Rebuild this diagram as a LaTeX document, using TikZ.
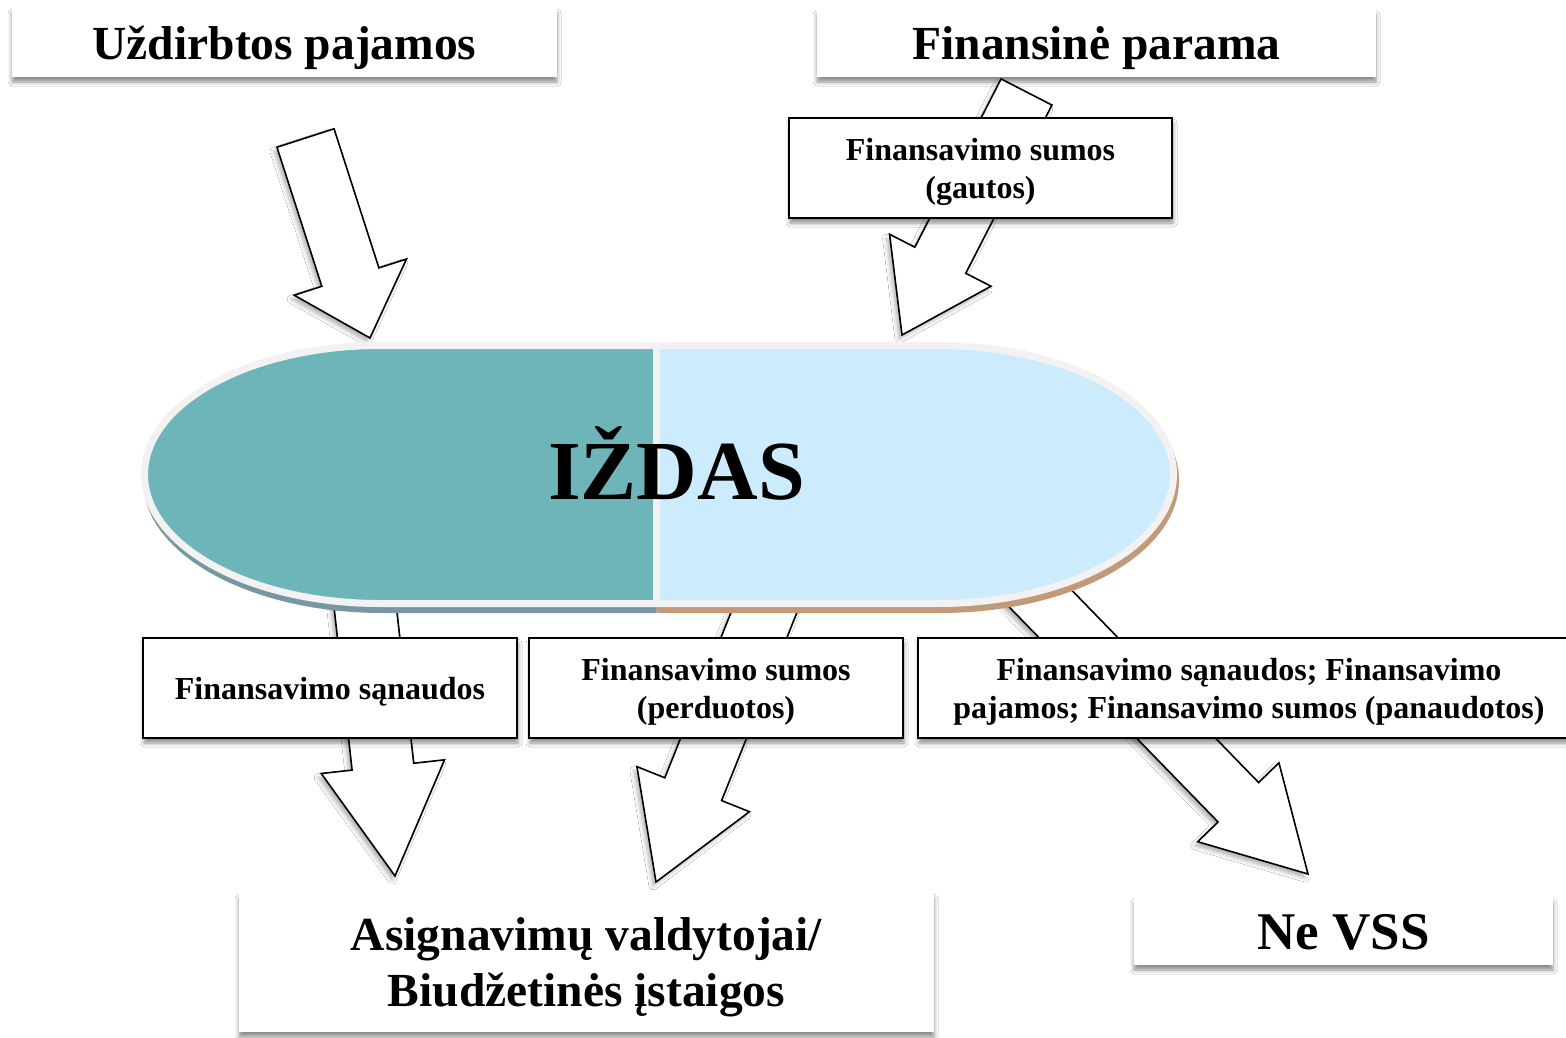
\documentclass[tikz,border=0pt]{standalone}
\usepackage{fontspec}
\setmainfont{Liberation Serif}
\usetikzlibrary{calc, shadows, shadows.blur}

\definecolor{izdteal}{HTML}{6DB5B8}
\definecolor{izdblue}{HTML}{CCEBFC}
\definecolor{izdrim}{HTML}{F2F2F2}
\definecolor{rimleft}{HTML}{7897A3}
\definecolor{rimright}{HTML}{C39A77}

\tikzstyle{title} = [fill=white, rectangle, inner sep=0pt, align=center, text depth=0pt,
font=\fontsize{47.5}{56}\selectfont\bfseries,
blur shadow={shadow xshift=0pt, shadow yshift=-5pt, shadow blur radius=4pt, shadow opacity=45}]
\tikzstyle{account} = [draw, line width=1.6pt, fill=white, rectangle, inner sep=0pt, align=center, text depth=0pt,
font=\fontsize{32}{38}\selectfont\bfseries,
blur shadow={shadow xshift=1pt, shadow yshift=-5pt, shadow blur radius=4pt, shadow opacity=45}]
\tikzstyle{flow} = [draw, line width=1.6pt, fill=white,
blur shadow={shadow xshift=-3pt, shadow yshift=-4pt, shadow blur radius=4pt, shadow opacity=30}]

% tail, tip, shaft half width, head half width, head length
\newcommand{\flowarrow}[5]{%
  \coordinate (fa-h) at ($(#2)!#5!(#1)$);
  \draw[flow] ($(#1)!#3!90:(#2)$) -- ($(fa-h)!#3!-90:(#1)$) -- ($(fa-h)!#4!-90:(#1)$) -- (#2)
    -- ($(fa-h)!#4!90:(#1)$) -- ($(fa-h)!#3!90:(#1)$) -- ($(#1)!#3!-90:(#2)$) -- cycle;}

\def\pillpath{(380,345.5) -- (938,345.5) arc[start angle=-90, end angle=90, x radius=235.5, y radius=129]
  -- (380,603.5) arc[start angle=90, end angle=270, x radius=235.5, y radius=129] -- cycle}

\begin{document}
\begin{tikzpicture}[x=1pt, y=-1pt]
  \useasboundingbox (0,0) rectangle (1566,1038);
  \fill[white] (0,0) rectangle (1566,1038);

  % sources and receivers
  \node [title, minimum width=545, minimum height=69] (uzdirbtos) at (284.5,42.5) {U\v{z}dirbtos pajamos};
  \node [title, minimum width=559, minimum height=67] (parama) at (1096.5,43.5) {Finansin\.{e} parama};
  \node [title, minimum width=695, minimum height=139] (valdytojai) at (586.5,962.5) {Asignavim\k{u} valdytojai/\\Biud\v{z}etin\.{e}s \k{i}staigos};
  \node [title, minimum width=419, minimum height=67, font=\fontsize{53}{60}\selectfont\bfseries] (nevss) at (1343.5,931.5) {Ne VSS};

  \coordinate (uzdirbtos-out) at (305.5,138);
  \coordinate (parama-out) at (1026.5,92);
  \coordinate (izdas-in1) at (370,338);
  \coordinate (izdas-in2) at (902,335);
  \coordinate (izdas-out1) at (360,560);
  \coordinate (izdas-out2) at (785,560);
  \coordinate (izdas-out3) at (1003,560);
  \coordinate (valdytojai-in1) at (395,876);
  \coordinate (valdytojai-in2) at (656,882);
  \coordinate (nevss-in) at (1308,874);

  \flowarrow{uzdirbtos-out}{izdas-in1}{30pt}{59pt}{64pt}
  \flowarrow{parama-out}{izdas-in2}{28.6pt}{57pt}{84pt}
  \flowarrow{izdas-out1}{valdytojai-in1}{31pt}{62pt}{110pt}
  \flowarrow{izdas-out2}{valdytojai-in2}{30.6pt}{60.6pt}{100pt}
  \flowarrow{izdas-out3}{nevss-in}{28.3pt}{56.6pt}{100pt}

  % treasury
  \begin{scope}
    \clip (0,0) rectangle (656.5,1038);
    \filldraw[rimleft, line width=7pt, shift={(2,6)}] \pillpath;
    \fill[izdteal] \pillpath;
  \end{scope}
  \begin{scope}
    \clip (656.5,0) rectangle (1566,1038);
    \filldraw[rimright, line width=7pt, shift={(2,6)}] \pillpath;
    \fill[izdblue] \pillpath;
  \end{scope}
  \draw[izdrim, line width=7pt] \pillpath;
  \draw[izdrim, line width=7pt] (656.5,345.5) -- (656.5,603.5);
  \node [anchor=base, inner sep=0pt, font=\fontsize{84}{90}\selectfont\bfseries] (izdas) at (676.5,499) {I\v{Z}DAS};

  % accounts
  \node [account, minimum width=383, minimum height=100] (gautos) at (980.5,168) {Finansavimo sumos\\(gautos)};
  \node [account, minimum width=374, minimum height=100] (sanaudos) at (330,688) {Finansavimo s\k{a}naudos};
  \node [account, minimum width=374, minimum height=100] (perduotos) at (716,688) {Finansavimo sumos\\(perduotos)};
  \node [account, minimum width=662, minimum height=100] (panaudotos) at (1249,688) {Finansavimo s\k{a}naudos; Finansavimo\\pajamos; Finansavimo sumos (panaudotos)};
\end{tikzpicture}
\end{document}
